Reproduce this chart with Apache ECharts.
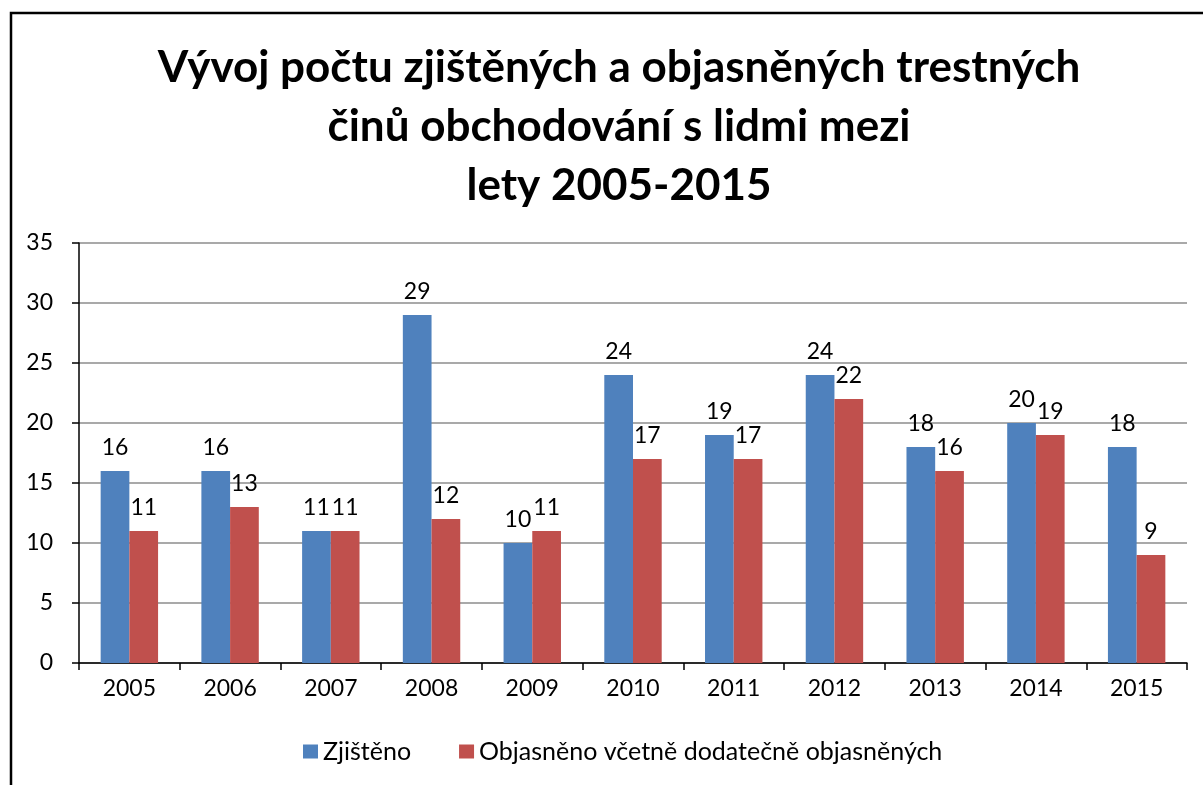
<!DOCTYPE html>
<html>
<head>
<meta charset="utf-8">
<script src="https://cdn.jsdelivr.net/npm/echarts@6/dist/echarts.min.js"></script>
<style>
  html, body { margin: 0; padding: 0; background: #fff; }
  #chart { width: 1203px; height: 785px; }
</style>
</head>
<body>
<div id="chart"></div>
<script>
// data
const years = ["2005", "2006", "2007", "2008", "2009", "2010", "2011", "2012", "2013", "2014", "2015"];
const zjisteno = [16, 16, 11, 29, 10, 24, 19, 24, 18, 20, 18];
const objasneno = [11, 13, 11, 12, 11, 17, 17, 22, 16, 19, 9];
const seriesNames = ["Zjištěno", "Objasněno včetně dodatečně objasněných"];

const font = "Lato, 'Open Sans', sans-serif";

const chart = echarts.init(document.getElementById("chart"));

const labelStyle = {
  show: true,
  position: "top",
  distance: 12,
  color: "#000",
  fontSize: 23,
  fontFamily: font,
};

const option = {
  animation: false,
  backgroundColor: "#fff",
  // outer frame like the Excel chart area
  graphic: [
    {
      type: "rect",
      shape: { x: 11, y: 13, width: 1250, height: 900 },
      style: { fill: "none", stroke: "#000", lineWidth: 2.5 },
      silent: true,
    },
  ],
  title: {
    text: "Vývoj počtu zjištěných a objasněných trestných\nčinů obchodování s lidmi mezi\nlety 2005-2015",
    left: 614,
    top: 33,
    textAlign: "center",
    textStyle: {
      fontFamily: font,
      fontWeight: "bold",
      fontSize: 44,
      lineHeight: 59,
      color: "#000",
    },
  },
  legend: {
    bottom: 16,
    left: 298,
    itemWidth: 15,
    itemHeight: 14,
    itemGap: 48,
    icon: "rect",
    textStyle: { fontFamily: font, fontSize: 25, color: "#000" },
    data: seriesNames,
  },
  grid: {
    left: 79,
    right: 16,
    top: 243,
    bottom: 122,
  },
  xAxis: {
    type: "category",
    data: years,
    axisLine: { lineStyle: { color: "#000", width: 1.5 } },
    axisTick: { show: true, length: 7, lineStyle: { color: "#000", width: 1.5 } },
    axisLabel: { color: "#000", fontSize: 23, fontFamily: font, margin: 14 },
  },
  yAxis: {
    type: "value",
    min: 0,
    max: 35,
    interval: 5,
    axisLine: { show: true, lineStyle: { color: "#000", width: 1.5 } },
    axisTick: { show: true, length: 7, lineStyle: { color: "#000", width: 1.5 } },
    axisLabel: { color: "#000", fontSize: 23, fontFamily: font, margin: 26 },
    splitLine: { lineStyle: { color: "#8c8c8c", width: 1.5 } },
  },
  series: [
    {
      name: seriesNames[0],
      type: "bar",
      data: zjisteno,
      barGap: "0%",
      barCategoryGap: "43%",
      itemStyle: { color: "#4F81BD" },
      label: labelStyle,
    },
    {
      name: seriesNames[1],
      type: "bar",
      data: objasneno,
      itemStyle: { color: "#C0504D" },
      label: labelStyle,
    },
  ],
};

chart.setOption(option);
</script>
</body>
</html>
